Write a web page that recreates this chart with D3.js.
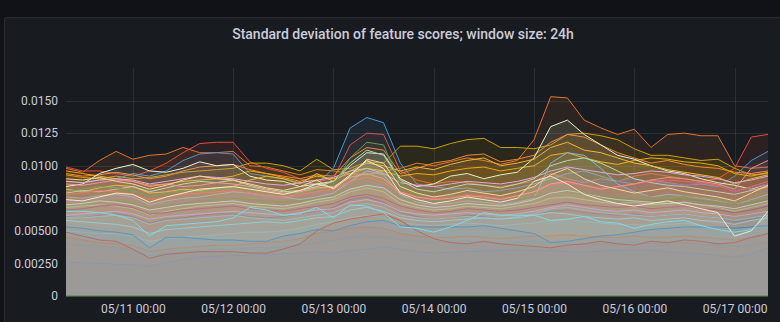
<!DOCTYPE html>
<html>
<head>
<meta charset="utf-8">
<script src="https://cdn.jsdelivr.net/npm/d3@7"></script>
<style>
  body { margin: 0; background: #111217; }
  svg { display: block; font-family: Roboto, "Open Sans", sans-serif; }
</style>
</head>
<body>
<svg id="chart" width="780" height="322"></svg>
<script>
// values are in units of 0.001, one sample every 4 hours (05/10 08:00 -> 05/17 08:00)
var unit = 0.001;
var times = d3.timeHour.range(new Date(2021, 4, 10, 8), new Date(2021, 4, 17, 9), 4);

var yTicks = [0, 0.0025, 0.005, 0.0075, 0.01, 0.0125, 0.015];
var yTickLabels = ["0", "0.00250", "0.00500", "0.00750", "0.0100", "0.0125", "0.0150"];

var topOrange = [9.8, 9.5, 10.4, 11.1,
  10.5, 10.8, 10.9, 11.4, 11.0, 11.0,
  11.1, 10.0, 9.9, 9.6, 9.3, 9.7,
  9.6, 9.4, 9.3, 9.6, 9.8, 10.2,
  10.0, 10.3, 10.6, 10.4, 10.1, 10.4,
  12.0, 15.3, 15.2, 13.5, 12.9, 12.4,
  12.8, 11.4, 12.4, 12.5, 12.3, 12.3,
  10.0, 9.8, 9.9];
var topRed = [9.9, 9.6, 9.6, 9.4,
  9.2, 9.6, 10.2, 11.0, 11.7, 11.8,
  11.8, 10.3, 9.8, 9.5, 9.0, 8.8,
  9.0, 11.6, 12.5, 12.4, 9.6, 8.9,
  8.6, 8.8, 8.7, 8.5, 8.4, 8.6,
  8.8, 9.4, 9.0, 8.7, 9.0, 8.8,
  9.2, 9.4, 9.2, 9.0, 8.8, 9.0,
  9.8, 12.2, 12.4];
var spikeBlue = [8.8, 8.7, 8.9, 9.0,
  9.4, 9.2, 9.6, 10.4, 10.9, 11.0,
  10.9, 9.4, 9.2, 9.0, 8.7, 8.6,
  9.8, 12.9, 13.7, 13.3, 10.2, 8.6,
  8.4, 8.2, 8.3, 8.0, 8.1, 8.3,
  8.6, 9.0, 9.4, 9.6, 9.2, 8.8,
  8.6, 8.9, 8.7, 8.5, 8.6, 8.4,
  9.2, 10.4, 11.1];
var topYellow = [9.3, 9.1, 9.0, 9.2,
  9.0, 9.1, 9.3, 9.5, 9.6, 9.7,
  9.8, 10.2, 10.2, 10.0, 9.6, 10.5,
  9.7, 9.8, 10.3, 10.2, 11.5, 11.5,
  11.3, 11.7, 12.0, 12.1, 11.4, 11.4,
  11.3, 11.6, 12.4, 12.5, 12.3, 12.0,
  11.3, 10.8, 10.8, 10.6, 10.4, 10.5,
  9.8, 9.3, 9.4];
var paleTop = [8.4, 8.6, 9.4, 9.8,
  10.1, 9.6, 9.5, 9.8, 10.3, 10.0,
  10.1, 9.2, 8.9, 8.8, 8.4, 8.6,
  8.8, 10.0, 11.0, 10.9, 9.0, 8.4,
  8.6, 9.2, 9.4, 9.0, 9.3, 9.5,
  10.6, 13.0, 13.5, 12.4, 11.6, 10.8,
  10.5, 10.0, 9.6, 9.4, 9.0, 8.7,
  8.5, 8.2, 8.6];
var cyanBright = [6.5, 6.5, 6.4, 6.2,
  5.8, 4.6, 5.4, 5.5, 5.6, 5.7,
  6.0, 6.8, 6.6, 6.2, 6.3, 6.8,
  6.0, 7.0, 6.9, 6.4, 5.3, 5.2,
  4.9, 5.3, 5.8, 6.4, 6.2, 6.2,
  6.2, 5.8, 5.9, 6.1, 5.7, 5.6,
  5.2, 5.5, 5.7, 5.8, 5.4, 5.1,
  4.9, 5.1, 6.2];
var blueMid = [5.3, 5.2, 5.0, 4.9,
  4.7, 3.7, 4.5, 4.5, 4.4, 4.3,
  4.3, 4.2, 4.2, 4.6, 4.8, 5.1,
  5.0, 5.4, 5.7, 5.8, 5.4, 5.3,
  5.3, 5.3, 5.3, 5.4, 5.2, 5.0,
  4.8, 4.1, 4.2, 4.4, 4.6, 4.7,
  4.9, 5.1, 5.2, 5.3, 5.3, 5.3,
  5.2, 5.3, 5.4];
var redLow = [4.9, 4.6, 4.3, 4.2,
  3.6, 2.9, 3.2, 3.3, 3.4, 3.4,
  3.4, 3.3, 3.3, 3.6, 4.0, 5.0,
  5.6, 5.9, 6.1, 6.3, 5.8, 5.0,
  4.4, 4.1, 4.0, 4.2, 4.0, 3.9,
  3.8, 3.7, 3.9, 4.0, 4.2, 4.0,
  3.9, 4.2, 4.1, 4.3, 4.2, 4.0,
  4.1, 4.5, 4.8];
var bottomBlue = [2.6, 2.55, 2.5, 2.45,
  2.4, 2.3, 2.55, 2.8, 3.0, 3.05,
  3.1, 3.15, 3.2, 3.25, 3.3, 3.4,
  3.3, 3.5, 3.6, 3.8, 3.6, 3.4,
  3.3, 3.35, 3.4, 3.45, 3.5, 3.55,
  3.5, 3.45, 3.4, 3.35, 3.45, 3.5,
  3.55, 3.5, 3.4, 3.3, 3.25, 3.1,
  3.0, 3.2, 3.7];
var green1 = [8.0, 8.2, 8.4, 8.3,
  8.1, 7.6, 7.9, 8.1, 8.0, 8.2,
  8.4, 8.3, 8.0, 7.8, 7.9, 8.2,
  8.5, 10.6, 11.8, 11.6, 8.6, 7.8,
  7.6, 7.7, 7.5, 7.4, 7.6, 7.5,
  7.8, 8.4, 8.2, 7.9, 7.7, 7.6,
  7.8, 7.6, 7.5, 7.7, 7.6, 7.4,
  7.2, 7.6, 8.0];
var paleYellow = [9.0, 8.9, 9.1, 8.8,
  8.6, 8.2, 8.5, 8.9, 9.2, 9.0,
  8.9, 8.6, 8.3, 8.1, 8.4, 8.9,
  8.2, 9.2, 10.5, 10.2, 8.4, 7.9,
  7.6, 7.8, 8.1, 7.9, 7.7, 8.0,
  8.4, 9.3, 9.8, 9.0, 8.5, 8.2,
  7.9, 8.1, 8.3, 8.0, 7.8, 7.6,
  7.3, 7.9, 8.5];
var pink1 = [8.6, 8.5, 8.7, 8.9,
  8.8, 8.5, 8.6, 8.4, 8.5, 8.7,
  8.6, 8.4, 8.1, 7.9, 8.0, 8.3,
  8.4, 9.1, 9.4, 9.0, 8.0, 7.6,
  7.4, 7.5, 7.7, 7.6, 7.4, 7.7,
  8.0, 8.6, 8.8, 8.5, 8.2, 8.4,
  8.6, 8.9, 9.1, 9.0, 8.8, 8.6,
  8.2, 9.8, 10.4];
var purple1 = [7.2, 7.4, 7.6, 7.7,
  7.5, 7.0, 7.1, 7.3, 7.5, 7.4,
  7.6, 7.8, 7.6, 7.5, 7.7, 7.9,
  8.0, 8.6, 8.9, 8.4, 7.7, 7.4,
  7.3, 7.5, 7.6, 7.4, 7.3, 7.5,
  7.8, 8.4, 8.6, 8.9, 8.7, 8.8,
  9.0, 8.8, 8.6, 8.5, 8.7, 8.5,
  8.1, 8.3, 8.6];
var magenta1 = [6.6, 6.7, 6.9, 7.0,
  6.8, 6.3, 6.4, 6.6, 6.7, 6.8,
  6.9, 6.7, 6.6, 6.5, 6.7, 6.9,
  7.1, 7.6, 7.8, 7.5, 6.9, 6.6,
  6.4, 6.5, 6.7, 6.6, 6.5, 6.6,
  6.8, 7.0, 7.2, 7.0, 6.9, 6.8,
  6.9, 6.7, 6.8, 6.9, 6.7, 6.6,
  6.4, 6.6, 6.9];
var yellow2 = [8.2, 8.0, 8.3, 8.5,
  8.4, 7.9, 8.0, 8.2, 8.1, 8.3,
  8.4, 8.9, 9.2, 9.0, 8.6, 9.4,
  8.8, 9.6, 10.2, 10.0, 9.6, 9.9,
  9.7, 10.1, 10.4, 10.6, 10.0, 10.2,
  10.5, 11.4, 11.8, 11.2, 11.0, 10.6,
  10.2, 10.0, 9.7, 9.5, 9.3, 9.1,
  8.6, 9.0, 9.3];
var cyan2 = [5.8, 5.7, 5.6, 5.5,
  5.3, 4.8, 5.1, 5.2, 5.3, 5.4,
  5.5, 5.6, 5.7, 5.6, 5.8, 6.0,
  6.1, 6.6, 6.8, 6.5, 6.0, 5.8,
  5.7, 5.8, 5.9, 6.0, 5.9, 6.0,
  6.2, 6.4, 6.3, 6.1, 6.0, 5.9,
  6.0, 5.8, 5.9, 6.0, 5.8, 5.7,
  5.5, 5.8, 6.0];
var lightBlue = [7.6, 7.5, 7.7, 7.8,
  7.6, 7.0, 7.3, 7.5, 7.6, 7.8,
  8.0, 7.9, 7.7, 7.6, 7.4, 7.6,
  7.9, 8.8, 9.6, 9.3, 7.8, 7.2,
  7.0, 7.1, 7.3, 7.2, 7.0, 7.2,
  7.5, 10.2, 11.0, 10.8, 9.8, 8.6,
  8.0, 7.6, 7.8, 7.7, 7.5, 7.3,
  7.0, 7.4, 7.8];
var paleGreen = [7.9, 8.1, 8.0, 8.2,
  8.4, 8.0, 8.3, 8.6, 8.8, 8.7,
  8.9, 8.5, 8.2, 8.0, 8.1, 8.4,
  8.8, 10.2, 11.2, 10.8, 8.9, 8.2,
  8.0, 8.3, 8.6, 8.5, 8.3, 8.6,
  9.0, 10.0, 10.4, 10.6, 10.2, 9.6,
  9.0, 8.7, 8.5, 8.4, 8.2, 8.0,
  7.8, 8.1, 8.4];
var paleBlue = [7.0, 7.1, 7.3, 7.2,
  7.0, 6.6, 6.8, 7.0, 7.1, 7.2,
  7.3, 7.1, 7.0, 6.9, 7.1, 7.4,
  7.6, 8.2, 8.5, 8.3, 7.4, 7.0,
  6.8, 6.9, 7.1, 7.0, 6.9, 7.1,
  7.4, 7.9, 8.1, 7.9, 7.6, 7.4,
  7.3, 7.2, 7.1, 7.2, 7.0, 6.9,
  6.7, 7.0, 7.3];
var gold = [9.6, 9.4, 9.2, 9.0,
  8.8, 8.4, 8.6, 8.8, 8.9, 9.0,
  9.2, 9.6, 9.4, 9.1, 8.8, 9.2,
  9.0, 9.4, 9.8, 9.6, 9.2, 9.4,
  9.3, 9.6, 9.8, 9.9, 9.6, 9.8,
  10.0, 10.8, 11.0, 10.6, 10.3, 10.1,
  10.4, 10.6, 10.5, 10.3, 10.2, 10.0,
  9.4, 9.2, 9.5];
var lavender = [6.2, 6.3, 6.4, 6.5,
  6.3, 5.9, 6.1, 6.2, 6.3, 6.4,
  6.5, 6.4, 6.3, 6.2, 6.4, 6.6,
  6.7, 7.2, 7.4, 7.1, 6.5, 6.3,
  6.2, 6.3, 6.4, 6.3, 6.2, 6.3,
  6.5, 6.8, 7.0, 6.8, 6.6, 6.5,
  6.6, 6.4, 6.5, 6.6, 6.4, 6.3,
  6.1, 6.3, 6.5];
var lightPink = [8.8, 8.7, 8.9, 9.0,
  8.9, 8.6, 8.8, 9.0, 9.2, 9.1,
  9.0, 8.8, 8.6, 8.5, 8.7, 8.9,
  9.1, 9.6, 9.8, 9.4, 8.7, 8.5,
  8.4, 8.6, 8.8, 8.7, 8.6, 8.8,
  9.1, 9.6, 9.9, 9.7, 9.5, 9.3,
  9.4, 9.6, 9.5, 9.3, 9.2, 9.0,
  8.7, 8.9, 9.2];
var darkGreen = [6.9, 7.0, 7.2, 7.3,
  7.1, 6.7, 6.9, 7.1, 7.3, 7.4,
  7.5, 7.4, 7.3, 7.2, 7.3, 7.5,
  7.7, 8.5, 9.0, 8.7, 7.6, 7.3,
  7.2, 7.4, 7.5, 7.3, 7.2, 7.4,
  7.6, 7.9, 8.0, 7.8, 7.6, 7.5,
  7.4, 7.3, 7.4, 7.5, 7.3, 7.2,
  7.0, 7.2, 7.4];
var cream = [7.4, 7.3, 7.6, 7.9,
  7.8, 7.2, 7.6, 7.9, 8.2, 8.3,
  8.4, 8.2, 8.0, 7.8, 8.1, 8.6,
  8.3, 9.3, 10.4, 9.8, 7.9, 7.4,
  7.1, 7.3, 7.6, 7.4, 7.2, 7.5,
  8.8, 9.2, 8.6, 7.8, 7.4, 7.1,
  6.9, 7.1, 7.3, 7.0, 6.7, 6.4,
  4.6, 5.0, 6.5];
var aqua = [6.0, 6.0, 6.1, 6.2,
  6.0, 5.5, 5.8, 5.9, 6.0, 6.1,
  6.2, 6.0, 5.9, 5.8, 6.0, 6.2,
  6.4, 6.9, 7.1, 6.8, 6.2, 6.0,
  5.9, 6.0, 6.1, 6.0, 5.9, 6.1,
  6.3, 6.7, 6.8, 6.6, 6.4, 6.3,
  6.2, 6.1, 6.2, 6.3, 6.1, 6.0,
  5.8, 6.0, 6.2];
var salmon = [7.8, 7.9, 8.1, 8.0,
  7.8, 7.4, 7.6, 7.8, 7.9, 8.0,
  8.1, 7.9, 7.7, 7.6, 7.8, 8.0,
  8.2, 8.8, 9.1, 8.7, 7.9, 7.6,
  7.5, 7.6, 7.8, 7.7, 7.5, 7.7,
  8.0, 8.5, 8.7, 8.5, 8.3, 8.4,
  8.6, 8.8, 8.9, 8.8, 8.7, 8.5,
  8.0, 8.4, 8.8];
var teal = [5.0, 4.9, 4.8, 4.8,
  4.6, 4.2, 4.4, 4.5, 4.6, 4.7,
  4.8, 4.9, 4.9, 5.0, 5.2, 5.5,
  5.7, 6.0, 6.2, 6.0, 5.6, 5.5,
  5.4, 5.5, 5.6, 5.5, 5.4, 5.5,
  5.6, 5.8, 5.9, 5.7, 5.6, 5.5,
  5.5, 5.4, 5.5, 5.6, 5.4, 5.3,
  5.1, 5.2, 5.4];
var rust = [4.5, 4.3, 4.1, 4.0,
  3.9, 3.4, 3.6, 3.7, 3.8, 3.9,
  3.9, 4.0, 4.1, 4.2, 4.4, 4.8,
  5.0, 5.2, 5.3, 5.2, 4.8, 4.6,
  4.5, 4.5, 4.6, 4.5, 4.4, 4.5,
  4.6, 4.6, 4.7, 4.6, 4.5, 4.5,
  4.6, 4.5, 4.5, 4.6, 4.5, 4.4,
  4.3, 4.5, 4.7];
var steel = [4.0, 3.9, 3.8, 3.7,
  3.5, 3.1, 3.3, 3.4, 3.5, 3.6,
  3.6, 3.7, 3.7, 3.8, 3.9, 4.1,
  4.3, 4.5, 4.6, 4.5, 4.3, 4.2,
  4.1, 4.1, 4.2, 4.1, 4.0, 4.1,
  4.2, 4.1, 4.0, 3.9, 4.0, 4.1,
  4.1, 4.0, 4.1, 4.1, 4.0, 3.9,
  3.8, 3.9, 4.1];
var orange2 = [9.4, 9.2, 9.3, 9.5,
  9.3, 9.0, 9.2, 9.6, 9.9, 10.0,
  10.1, 9.7, 9.4, 9.2, 9.0, 9.3,
  9.2, 10.6, 11.4, 11.2, 9.4, 9.8,
  10.2, 10.4, 10.8, 10.9, 10.3, 10.5,
  10.8, 11.8, 12.4, 12.2, 11.6, 11.0,
  10.6, 10.2, 10.4, 10.1, 9.9, 9.8,
  9.5, 9.4, 9.6];
var violet = [6.1, 6.0, 6.2, 6.3,
  6.1, 5.6, 5.9, 6.0, 6.2, 6.3,
  6.3, 6.1, 6.0, 6.1, 6.3, 6.5,
  6.8, 7.4, 7.6, 7.2, 6.4, 6.1,
  5.9, 6.0, 6.2, 6.1, 5.9, 6.0,
  6.2, 6.5, 6.6, 6.4, 6.3, 6.2,
  6.3, 6.1, 6.2, 6.3, 6.1, 6.0,
  5.7, 5.9, 6.2];
var sage = [6.8, 6.9, 7.0, 6.9,
  6.7, 6.2, 6.5, 6.7, 6.9, 7.0,
  7.1, 6.9, 6.8, 6.7, 6.9, 7.2,
  7.4, 8.0, 8.3, 8.0, 7.1, 6.8,
  6.6, 6.7, 6.9, 6.8, 6.7, 6.9,
  7.1, 7.5, 7.6, 7.4, 7.2, 7.1,
  7.2, 7.0, 7.1, 7.2, 7.0, 6.8,
  6.5, 6.8, 7.1];
var zeroLine = [0, 0, 0, 0,
  0, 0, 0, 0, 0, 0,
  0, 0, 0, 0, 0, 0,
  0, 0, 0, 0, 0, 0,
  0, 0, 0, 0, 0, 0,
  0, 0, 0, 0, 0, 0,
  0, 0, 0, 0, 0, 0,
  0, 0, 0];

// draw order: earlier series get covered by the fills of later ones
var seriesData = [topOrange, topRed, topYellow, spikeBlue, orange2, gold, paleTop, yellow2, lightPink, steel,
  purple1, lightBlue, darkGreen, sage, paleBlue, magenta1, violet, teal, aqua, paleGreen,
  bottomBlue, green1, rust, salmon, redLow, cyan2, lavender, blueMid, pink1, cream,
  cyanBright, paleYellow, zeroLine];
var seriesColors = ["#E0752D", "#E24D42", "#CCA300", "#5195CE", "#EF843C", "#E5AC0E", "#E0F9D7", "#EAB839", "#E5A8E2", "#0A50A1",
  "#806EB7", "#82B5D8", "#508642", "#9AC48A", "#BADFF4", "#962D82", "#614D93", "#64B0C8", "#65C5DB", "#B7DBAB",
  "#447EBF", "#629E51", "#C15C17", "#EA6460", "#BF1B00", "#6ED0E0", "#AEA2E0", "#1F78C1", "#F29191", "#FCEACA",
  "#70DBED", "#F4D598", "#508642"];

var svg = d3.select("#chart");
var W = 780, H = 322;
var margin = {top: 68, right: 12, bottom: 26, left: 66};

// panel
svg.append("rect")
  .attr("x", 4.5).attr("y", 17.5)
  .attr("width", 800).attr("height", 330)
  .attr("rx", 2)
  .attr("fill", "#181b1f")
  .attr("stroke", "rgba(204,204,220,0.12)");

svg.append("text")
  .attr("x", 403).attr("y", 39)
  .attr("text-anchor", "middle")
  .attr("fill", "#ccccdc")
  .style("font-size", "14px")
  .style("font-weight", 500)
  .text("Standard deviation of feature scores; window size: 24h");

var x = d3.scaleTime()
  .domain([times[0], times[times.length - 1]])
  .range([margin.left, W - margin.right]);
var y = d3.scaleLinear()
  .domain([0, 0.0175])
  .range([H - margin.bottom, margin.top]);

var dayTicks = d3.timeDay.range(times[0], times[times.length - 1]);

// grid
var grid = svg.append("g").attr("stroke", "rgba(240,250,255,0.09)").attr("stroke-width", 1);
grid.selectAll(".gy").data(yTicks).enter().append("line")
  .attr("x1", margin.left).attr("x2", W - margin.right)
  .attr("y1", function(d) { return Math.round(y(d)) + 0.5; })
  .attr("y2", function(d) { return Math.round(y(d)) + 0.5; });
grid.selectAll(".gx").data(dayTicks).enter().append("line")
  .attr("y1", margin.top).attr("y2", H - margin.bottom)
  .attr("x1", function(d) { return Math.round(x(d)) + 0.5; })
  .attr("x2", function(d) { return Math.round(x(d)) + 0.5; });

svg.append("clipPath").attr("id", "plotclip")
  .append("rect")
  .attr("x", margin.left).attr("y", margin.top - 2)
  .attr("width", W - margin.right - margin.left)
  .attr("height", H - margin.bottom - margin.top + 3);

var area = d3.area()
  .x(function(d, i) { return x(times[i]); })
  .y0(y(0))
  .y1(function(d) { return y(d * unit); });
var line = d3.line()
  .x(function(d, i) { return x(times[i]); })
  .y(function(d) { return y(d * unit); });

var plot = svg.append("g").attr("clip-path", "url(#plotclip)");
var sg = plot.selectAll(".series").data(seriesData).enter().append("g").attr("class", "series");
sg.append("path")
  .attr("d", area)
  .attr("fill", function(d, i) { return seriesColors[i]; })
  .attr("fill-opacity", 0.1);
sg.append("path")
  .attr("d", line)
  .attr("fill", "none")
  .attr("stroke", function(d, i) { return seriesColors[i]; })
  .attr("stroke-width", 1);

// axes
var axisY = d3.axisLeft(y)
  .tickValues(yTicks)
  .tickFormat(function(d, i) { return yTickLabels[i]; })
  .tickSize(0)
  .tickPadding(8);
var gy = svg.append("g")
  .attr("transform", "translate(" + margin.left + ",0)")
  .call(axisY);

var axisX = d3.axisBottom(x)
  .tickValues(dayTicks)
  .tickFormat(d3.timeFormat("%m/%d %H:%M"))
  .tickSize(0)
  .tickPadding(8);
var gx = svg.append("g")
  .attr("transform", "translate(0," + (H - margin.bottom) + ")")
  .call(axisX);

[gx, gy].forEach(function(g) {
  g.select(".domain").remove();
  g.selectAll("text")
    .attr("fill", "#ccccdc")
    .style("font-size", "12px")
    .style("font-family", "Roboto, sans-serif");
});
</script>
</body>
</html>
